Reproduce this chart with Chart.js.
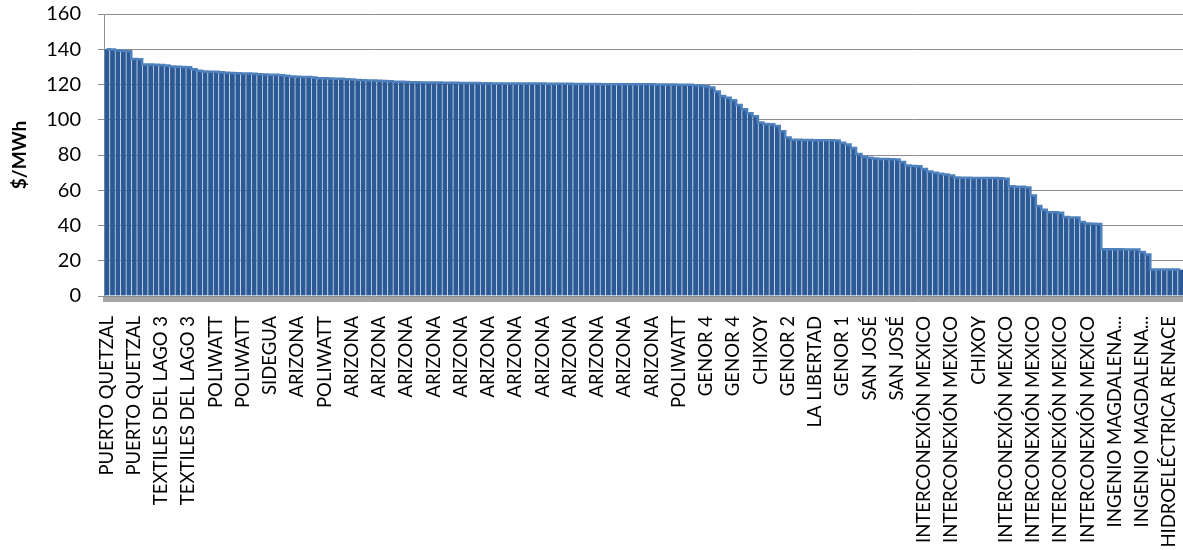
<!DOCTYPE html>
<html>
<head>
<meta charset="utf-8">
<script src="https://cdn.jsdelivr.net/npm/chart.js@4.4.1/dist/chart.umd.min.js"></script>
<style>
  html, body { margin: 0; padding: 0; background: #ffffff; }
  .graph-area { position: relative; width: 1183px; height: 550px; }
</style>
</head>
<body>
<div class="graph-area"><canvas id="bar-graph"></canvas></div>
<script>
// 横のラベル (5本ごとに1つ表示)
const tickLabels = [
  'PUERTO QUETZAL', 'PUERTO QUETZAL', 'TEXTILES DEL LAGO 3', 'TEXTILES DEL LAGO 3',
  'POLIWATT', 'POLIWATT', 'SIDEGUA', 'ARIZONA', 'POLIWATT',
  'ARIZONA', 'ARIZONA', 'ARIZONA', 'ARIZONA', 'ARIZONA', 'ARIZONA',
  'ARIZONA', 'ARIZONA', 'ARIZONA', 'ARIZONA', 'ARIZONA', 'ARIZONA',
  'POLIWATT', 'GENOR 4', 'GENOR 4', 'CHIXOY', 'GENOR 2', 'LA LIBERTAD', 'GENOR 1',
  'SAN JOSÉ', 'SAN JOSÉ', 'INTERCONEXIÓN MEXICO', 'INTERCONEXIÓN MEXICO', 'CHIXOY',
  'INTERCONEXIÓN MEXICO', 'INTERCONEXIÓN MEXICO', 'INTERCONEXIÓN MEXICO', 'INTERCONEXIÓN MEXICO',
  'INGENIO MAGDALENA...', 'INGENIO MAGDALENA...', 'HIDROELÉCTRICA RENACE'
];
// ラベルの間隔(本数)
const labelStep = 5;

// 価格 $/MWh (1本ずつ)
const priceList = [
  140, 139.8, 139.5, 139.2, 138.9,
  134.5, 134.3,
  131.4, 131.3, 131.2, 131.1, 130.8,
  130.2, 130.1, 130, 129.8,
  128.7,
  127.8, 127.4, 127.3, 127.2, 127,
  126.6, 126.5, 126.4, 126.3, 126.2, 126.1,
  125.8, 125.7, 125.6, 125.5, 125.3, 125,
  124.6, 124.4, 124.3, 124.2, 124,
  123.6, 123.5, 123.4, 123.3, 123.2, 123, 122.9,
  122.6, 122.4, 122.3, 122.2, 122.1, 122, 121.9,
  121.6, 121.5, 121.4, 121.3, 121.3, 121.2, 121.2, 121.1, 121.1, 121, 121, 121, 120.9, 120.9, 120.8, 120.8,
  120.7, 120.7, 120.6, 120.6, 120.6, 120.6, 120.5, 120.5, 120.5, 120.5, 120.5, 120.5, 120.4, 120.4, 120.4, 120.4, 120.4, 120.3, 120.3,
  120.3, 120.3, 120.3, 120.2, 120.2, 120.2, 120.2, 120.2, 120.1, 120.1, 120.1, 120.1, 120.1, 120, 120, 120, 120, 119.9, 119.9, 119.8, 119.6, 119.4,
  119, 118.3, 116, 113.5, 112.5, 111, 108.4, 106, 103.7, 102, 98.5, 97.6, 97.5, 96.5, 93.5, 90,
  88.6, 88.6, 88.5, 88.5, 88.4, 88.4, 88.3, 88.3, 88.2,
  87, 86, 84, 80.5, 79, 78.5, 78, 77.8, 77.7, 77.6, 77.5,
  76, 74, 73.8, 73.6, 72, 70.6, 70, 69.3, 69, 68.3,
  67.2, 67.1, 67.1, 67, 67, 67, 66.9, 66.9, 66.8, 66.5,
  62.3, 62, 62, 61.5, 57, 51, 49, 47.5, 47.5, 47.3,
  44.8, 44.6, 44.5, 42, 41.2, 41, 40.8,
  26.5, 26.5, 26.5, 26.5, 26.4, 26.4, 26.4, 25, 23.5,
  15.1, 15, 15, 15, 15, 15
];

// 縦軸の目盛り
const yMin = 0;
const yMax = 160;
const yStep = 20;

// 全カテゴリ (ラベルは5本ごと、それ以外は空)
let categories = [];
for (let i = 0; i < priceList.length; i++) {
  if (i % labelStep == 0 && tickLabels[i / labelStep] !== undefined) {
    categories.push(tickLabels[i / labelStep]);
  } else {
    categories.push('');
  }
}

// 床(灰色の帯)
const floorPlugin = {
  id: 'floor',
  afterDraw(chart) {
    const area = chart.chartArea;
    const ctx = chart.ctx;
    ctx.save();
    ctx.fillStyle = '#A5A5A5';
    ctx.fillRect(area.left - 1, area.bottom + 1, area.right - area.left + 1, 5);
    ctx.restore();
  }
};

const fontName = 'Lato, "Open Sans", sans-serif';

// グラフの描画
new Chart(document.getElementById('bar-graph'), {
  data: {
    labels: categories,
    datasets: [{
      // 上の縁取り
      type: 'line',
      data: priceList,
      stepped: 'middle',
      borderColor: '#4F81BD',
      borderWidth: 2.5,
      pointRadius: 0,
      fill: false,
      order: 0
    }, {
      type: 'bar',
      data: priceList,
      backgroundColor: '#2C5A97',
      // 細い縦じま(うすく)
      borderColor: 'rgba(150, 180, 225, 0.22)',
      borderWidth: { left: 1, right: 0, top: 0, bottom: 0 },
      barPercentage: 1,
      categoryPercentage: 1,
      order: 1
    }]
  },
  options: {
    responsive: true,
    maintainAspectRatio: false,
    animation: false,
    layout: { padding: { top: 14, left: 0, right: 0, bottom: 0 } },
    plugins: {
      legend: { display: false },
      tooltip: { enabled: false }
    },
    scales: {
      x: {
        grid: { display: false, drawTicks: false },
        border: { display: false },
        ticks: {
          autoSkip: false,
          maxRotation: 90,
          minRotation: 90,
          padding: 20,
          color: '#000000',
          font: { family: fontName, size: 18.5 }
        },
        afterFit: function(axis) {
          axis.height = 254;
          axis.paddingLeft = 0;
          axis.paddingRight = 0;
        }
      },
      y: {
        min: yMin,
        max: yMax,
        grid: { color: '#8E8E8E', lineWidth: 1, tickLength: 6 },
        border: { color: '#8E8E8E', width: 1 },
        ticks: {
          stepSize: yStep,
          padding: 17,
          color: '#000000',
          font: { family: fontName, size: 20 }
        },
        title: {
          display: true,
          text: '$/MWh',
          color: '#000000',
          padding: { top: 8, bottom: 0 },
          font: { family: fontName, size: 19, weight: 'bold' }
        },
        afterFit: function(axis) {
          axis.width = 104;
          axis.paddingTop = 0;
          axis.paddingBottom = 0;
        }
      }
    }
  },
  plugins: [floorPlugin]
});
</script>
</body>
</html>
